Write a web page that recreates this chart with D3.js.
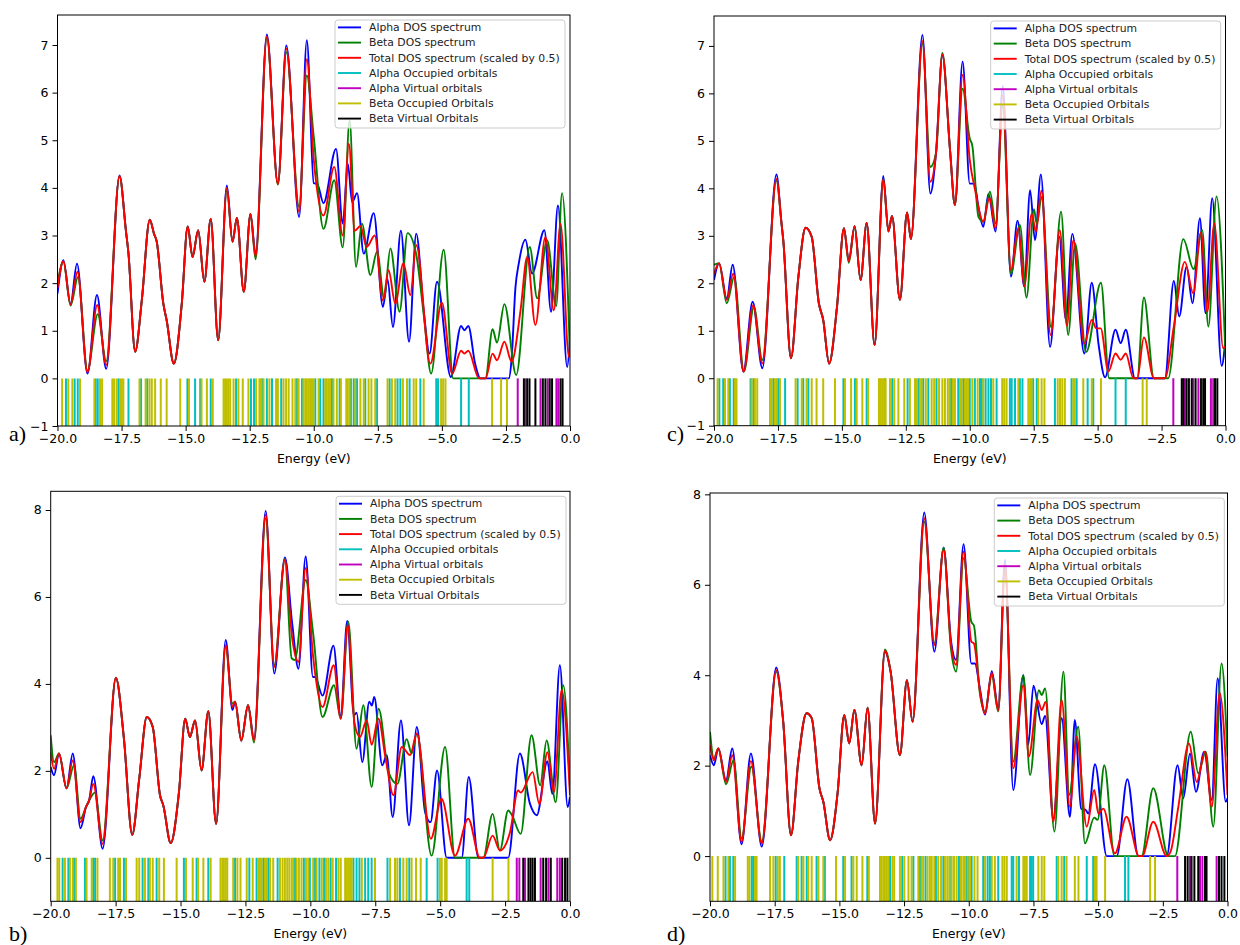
<!DOCTYPE html>
<html>
<head>
<meta charset="utf-8">
<script src="https://cdn.jsdelivr.net/npm/d3@7"></script>
<style>
  body { margin: 0; background: #fff; }
  svg { display: block; font-family: "DejaVu Sans", sans-serif; }
</style>
</head>
<body>
<svg id="fig" width="1240" height="945"></svg>
<script>
// ---- values: [energy (eV), DOS] ----
const aAlpha = [[-20,1.78],[-19.77,2.48],[-19.49,1.56],[-19.24,2.41],[-18.83,0.1],[-18.46,1.75],[-18.1,0.2],[-17.58,4.26],[-17.33,3.1],[-17.23,2.62],[-16.97,0.56],[-16.71,1.64],[-16.4,3.33],[-16.23,3.03],[-16.13,2.88],[-15.87,1.57],[-15.74,1.22],[-15.46,0.31],[-15.15,1.57],[-14.92,3.19],[-14.73,2.55],[-14.51,3.11],[-14.27,2.03],[-14.02,3.35],[-13.73,0.8],[-13.39,4.05],[-13.17,2.87],[-13.0,3.37],[-12.73,1.82],[-12.47,3.45],[-12.27,2.62],[-11.83,7.22],[-11.4,4.09],[-11.07,6.99],[-10.57,3.39],[-10.27,7.1],[-10.0,4.1],[-9.86,4.08],[-9.62,3.68],[-9.13,4.82],[-8.87,3.25],[-8.67,4.5],[-8.5,3.7],[-8.31,3.89],[-8.05,2.62],[-7.66,3.47],[-7.3,1.5],[-7.12,2.08],[-6.91,1.08],[-6.6,3.1],[-6.28,0.77],[-6.0,3.04],[-5.71,1.43],[-5.48,0.52],[-5.19,2.03],[-4.65,0.03],[-4.25,1.1],[-4.12,1.01],[-3.97,1.1],[-3.7,0.3],[-3.5,0],[-2.39,0],[-2.28,0.4],[-2.13,1.9],[-2.0,2.41],[-1.74,2.91],[-1.48,2.2],[-1.0,3.11],[-0.74,1.4],[-0.47,3.63],[-0.11,0.24],[0,0.84]];
const aBeta = [[-20,2.0],[-19.77,2.45],[-19.49,1.53],[-19.2,2.13],[-18.83,0.16],[-18.43,1.35],[-18.1,0.36],[-17.58,4.24],[-17.33,3.1],[-17.23,2.62],[-16.97,0.56],[-16.71,1.64],[-16.4,3.33],[-16.23,3.03],[-16.13,2.88],[-15.87,1.57],[-15.74,1.22],[-15.46,0.31],[-15.15,1.57],[-14.92,3.19],[-14.73,2.55],[-14.51,3.11],[-14.27,2.03],[-14.02,3.35],[-13.73,0.8],[-13.39,3.95],[-13.17,2.87],[-13.0,3.37],[-12.73,1.82],[-12.47,3.45],[-12.27,2.5],[-11.83,7.15],[-11.4,4.07],[-11.07,6.85],[-10.57,3.6],[-10.27,6.36],[-10.0,5.07],[-9.62,3.14],[-9.2,4.16],[-8.87,2.75],[-8.6,5.42],[-8.35,2.34],[-8.12,3.25],[-7.79,2.17],[-7.53,2.66],[-7.25,1.68],[-7.01,2.73],[-6.65,1.4],[-6.34,3.05],[-6.0,2.6],[-5.7,1.3],[-5.42,0.1],[-4.93,2.7],[-4.56,0],[-3.3,0],[-3.02,1.03],[-2.85,0.75],[-2.56,1.56],[-2.1,0.07],[-1.57,2.76],[-1.28,1.68],[-0.89,2.9],[-0.54,1.52],[-0.31,3.89],[0,0.45]];
const aTotal = [[-20,1.9],[-19.77,2.46],[-19.49,1.55],[-19.22,2.24],[-18.83,0.13],[-18.45,1.54],[-18.1,0.28],[-17.58,4.25],[-17.33,3.1],[-17.23,2.62],[-16.97,0.56],[-16.71,1.64],[-16.4,3.33],[-16.23,3.03],[-16.13,2.88],[-15.87,1.57],[-15.74,1.22],[-15.46,0.31],[-15.15,1.57],[-14.92,3.19],[-14.73,2.55],[-14.51,3.11],[-14.27,2.03],[-14.02,3.35],[-13.73,0.8],[-13.39,4.0],[-13.17,2.87],[-13.0,3.37],[-12.73,1.82],[-12.47,3.45],[-12.27,2.56],[-11.83,7.18],[-11.4,4.08],[-11.07,6.92],[-10.57,3.5],[-10.27,6.7],[-10.0,4.6],[-9.62,3.42],[-9.2,4.44],[-8.87,3.0],[-8.63,4.93],[-8.4,3.1],[-8.18,3.2],[-7.93,2.76],[-7.62,3.0],[-7.3,1.64],[-7.08,2.27],[-6.82,1.57],[-6.5,2.42],[-6.23,1.75],[-6.0,2.8],[-5.45,0.31],[-5.0,1.59],[-4.6,0.1],[-4.25,0.58],[-4.12,0.52],[-3.97,0.58],[-3.55,0],[-3.3,0],[-3.02,0.52],[-2.85,0.38],[-2.56,0.77],[-2.28,0.35],[-1.93,1.43],[-1.67,2.55],[-1.35,1.12],[-0.96,2.97],[-0.63,1.43],[-0.37,3.25],[-0.04,0.45],[0,0.66]];

const bAlpha = [[-20,2.09],[-19.87,1.9],[-19.68,2.4],[-19.39,1.6],[-19.15,2.4],[-18.85,0.68],[-18.64,1.17],[-18.52,1.32],[-18.36,1.88],[-18.0,0.21],[-17.49,4.14],[-17.18,2.74],[-16.86,0.53],[-16.59,1.82],[-16.3,3.24],[-16.07,3.01],[-15.79,1.44],[-15.66,1.2],[-15.38,0.34],[-15.06,1.51],[-14.82,3.2],[-14.64,2.78],[-14.44,3.16],[-14.19,2.01],[-13.93,3.37],[-13.63,0.78],[-13.26,5.01],[-13.0,3.4],[-12.9,3.59],[-12.66,2.7],[-12.4,3.51],[-12.17,2.74],[-11.72,7.98],[-11.39,4.24],[-10.98,6.91],[-10.7,5.39],[-10.46,4.35],[-10.18,6.93],[-9.9,4.16],[-9.82,4.16],[-9.53,3.73],[-9.11,4.88],[-8.83,3.26],[-8.58,5.45],[-8.32,3.28],[-8.22,3.34],[-8.0,2.2],[-7.73,3.59],[-7.63,3.5],[-7.54,3.7],[-7.23,2.13],[-7.06,2.36],[-6.83,0.94],[-6.51,3.16],[-6.2,0.75],[-5.9,3.01],[-5.58,1.05],[-5.37,0.82],[-5.12,2.01],[-4.75,0],[-4.17,0],[-3.9,1.86],[-3.53,0],[-2.38,0],[-1.93,2.4],[-1.54,1.24],[-1.28,0.98],[-0.87,2.22],[-0.68,1.47],[-0.39,4.43],[-0.09,1.17],[0,1.4]];
const bBeta = [[-20,2.82],[-19.87,2.2],[-19.68,2.4],[-19.39,1.6],[-19.1,2.13],[-18.85,0.9],[-18.64,1.17],[-18.52,1.32],[-18.3,1.5],[-18.0,0.4],[-17.49,4.14],[-17.18,2.74],[-16.86,0.53],[-16.59,1.82],[-16.3,3.24],[-16.07,3.01],[-15.79,1.44],[-15.66,1.2],[-15.38,0.34],[-15.06,1.51],[-14.82,3.2],[-14.64,2.78],[-14.44,3.16],[-14.19,2.01],[-13.93,3.37],[-13.63,0.78],[-13.26,4.85],[-13.0,3.55],[-12.9,3.59],[-12.66,2.7],[-12.4,3.51],[-12.17,2.65],[-11.72,7.81],[-11.39,4.43],[-10.98,6.87],[-10.72,4.59],[-10.6,4.55],[-10.18,6.39],[-9.9,5.2],[-9.53,3.24],[-9.09,3.97],[-8.83,3.2],[-8.54,5.43],[-8.22,2.51],[-7.96,3.51],[-7.64,1.63],[-7.37,3.43],[-6.99,1.97],[-6.65,1.7],[-6.29,2.73],[-6.1,2.4],[-5.9,2.85],[-5.33,0.05],[-4.81,2.55],[-4.43,0],[-3.34,0],[-2.98,1.01],[-2.7,0.17],[-2.38,1.09],[-2.25,1.0],[-1.9,0.55],[-1.48,2.82],[-1.15,1.67],[-0.9,2.7],[-0.55,1.28],[-0.26,3.97],[0,1.59]];
const bTotal = [[-20,2.43],[-19.87,2.05],[-19.68,2.4],[-19.39,1.6],[-19.15,2.24],[-18.85,0.82],[-18.64,1.17],[-18.52,1.32],[-18.36,1.7],[-18.0,0.32],[-17.49,4.14],[-17.18,2.74],[-16.86,0.53],[-16.59,1.82],[-16.3,3.24],[-16.07,3.01],[-15.79,1.44],[-15.66,1.2],[-15.38,0.34],[-15.06,1.51],[-14.82,3.2],[-14.64,2.78],[-14.44,3.16],[-14.19,2.01],[-13.93,3.37],[-13.63,0.78],[-13.26,4.89],[-13.0,3.47],[-12.9,3.59],[-12.66,2.7],[-12.4,3.51],[-12.17,2.7],[-11.72,7.89],[-11.39,4.39],[-10.98,6.85],[-10.7,5.05],[-10.46,4.51],[-10.18,6.66],[-9.9,4.66],[-9.53,3.47],[-9.1,4.43],[-8.83,3.2],[-8.56,5.35],[-8.3,3.1],[-8.09,2.78],[-7.83,3.16],[-7.64,2.6],[-7.38,3.2],[-7.1,2.28],[-6.8,1.44],[-6.48,2.55],[-6.16,2.36],[-5.9,2.86],[-5.36,0.44],[-4.95,1.36],[-4.43,0.05],[-3.92,0.9],[-3.47,0],[-3.34,0],[-2.98,0.51],[-2.7,0.17],[-2.31,0.59],[-2.0,1.55],[-1.9,1.5],[-1.44,1.97],[-1.18,1.24],[-0.87,2.43],[-0.62,1.51],[-0.32,3.86],[0,1.44]];

const cAlpha = [[-20,2.07],[-19.8,2.42],[-19.5,1.68],[-19.27,2.39],[-18.85,0.14],[-18.49,1.61],[-18.11,0.21],[-17.56,4.29],[-17.36,3.26],[-17.29,2.9],[-16.99,0.42],[-16.7,2.14],[-16.42,3.17],[-16.18,2.98],[-15.9,1.58],[-15.73,1.23],[-15.5,0.31],[-15.19,1.51],[-14.92,3.16],[-14.73,2.49],[-14.5,3.2],[-14.27,2.07],[-14.03,3.27],[-13.72,0.7],[-13.38,4.26],[-13.18,3.09],[-13.04,3.42],[-12.73,1.65],[-12.45,3.49],[-12.3,2.93],[-11.85,7.23],[-11.54,3.89],[-11.32,4.74],[-11.07,6.8],[-10.77,4.8],[-10.58,3.65],[-10.28,6.67],[-10.0,4.1],[-9.82,4.1],[-9.66,3.61],[-9.47,3.19],[-9.27,3.88],[-8.99,3.09],[-8.71,6.15],[-8.39,2.14],[-8.13,3.32],[-7.87,1.93],[-7.64,3.96],[-7.45,2.91],[-7.22,4.29],[-6.86,0.66],[-6.5,2.98],[-6.24,1.23],[-5.99,3.04],[-5.52,0.52],[-5.23,2.01],[-4.96,0.7],[-4.71,0.02],[-4.3,1.02],[-4.1,0.74],[-3.9,1.02],[-3.54,0],[-2.37,0],[-2.02,2.05],[-1.81,1.3],[-1.52,2.35],[-1.29,1.58],[-1.0,3.37],[-0.78,1.37],[-0.52,3.79],[-0.15,0.26],[0,0.84]];
const cBeta = [[-20,2.39],[-19.8,2.42],[-19.5,1.58],[-19.21,2.13],[-18.83,0.14],[-18.44,1.5],[-18.11,0.38],[-17.56,4.17],[-17.36,3.26],[-17.29,2.9],[-16.99,0.42],[-16.7,2.14],[-16.42,3.17],[-16.18,2.98],[-15.9,1.58],[-15.73,1.23],[-15.5,0.31],[-15.19,1.51],[-14.92,3.16],[-14.73,2.43],[-14.5,3.2],[-14.27,2.07],[-14.03,3.27],[-13.72,0.7],[-13.38,4.2],[-13.18,3.09],[-13.04,3.42],[-12.73,1.65],[-12.45,3.49],[-12.3,2.93],[-11.85,7.05],[-11.54,4.45],[-11.32,4.74],[-11.07,6.85],[-10.77,4.8],[-10.58,3.65],[-10.28,6.1],[-10.0,5.05],[-9.9,4.9],[-9.66,3.4],[-9.47,3.3],[-9.21,3.93],[-8.99,3.26],[-8.71,5.75],[-8.39,2.2],[-8.04,3.23],[-7.78,1.7],[-7.49,3.56],[-7.38,3.25],[-7.19,3.82],[-6.82,1.08],[-6.43,3.51],[-6.15,0.91],[-5.88,2.84],[-5.45,0.55],[-4.87,2.01],[-4.55,0],[-3.45,0],[-3.19,1.7],[-2.8,0],[-2.24,0],[-1.65,2.93],[-1.25,2.3],[-0.91,3.12],[-0.67,1.09],[-0.35,3.83],[0,0.45]];
const cTotal = [[-20,2.2],[-19.8,2.42],[-19.5,1.65],[-19.25,2.2],[-18.84,0.14],[-18.47,1.54],[-18.11,0.31],[-17.56,4.2],[-17.36,3.26],[-17.29,2.9],[-16.99,0.42],[-16.7,2.14],[-16.42,3.17],[-16.18,2.98],[-15.9,1.58],[-15.73,1.23],[-15.5,0.31],[-15.19,1.51],[-14.92,3.16],[-14.73,2.46],[-14.5,3.2],[-14.27,2.07],[-14.03,3.27],[-13.72,0.7],[-13.38,4.2],[-13.18,3.09],[-13.04,3.42],[-12.73,1.65],[-12.45,3.49],[-12.3,2.93],[-11.85,7.1],[-11.54,4.14],[-11.32,4.74],[-11.07,6.82],[-10.77,4.8],[-10.58,3.65],[-10.28,6.39],[-10.0,4.6],[-9.79,3.96],[-9.47,3.3],[-9.23,3.8],[-8.99,3.16],[-8.71,5.95],[-8.39,2.28],[-8.1,3.16],[-7.87,1.93],[-7.58,3.46],[-7.41,3.09],[-7.2,3.95],[-6.84,0.91],[-6.48,3.12],[-6.2,1.1],[-5.95,2.91],[-5.52,0.73],[-5.23,1.23],[-5.05,1.05],[-4.88,1.05],[-4.58,0.14],[-4.3,0.52],[-4.1,0.39],[-3.9,0.52],[-3.6,0],[-3.45,0],[-3.19,0.86],[-2.8,0],[-2.37,0],[-2.02,1.09],[-1.59,2.45],[-1.26,1.79],[-0.96,3.07],[-0.71,1.4],[-0.44,3.26],[-0.09,0.63],[0,0.67]];

const dAlpha = [[-20,2.23],[-19.85,2.01],[-19.68,2.38],[-19.38,1.68],[-19.14,2.38],[-18.78,0.26],[-18.42,2.27],[-18.0,0.21],[-17.44,4.17],[-17.17,2.97],[-16.87,0.46],[-16.59,2.09],[-16.27,3.16],[-16.07,3.05],[-15.77,1.5],[-15.62,1.2],[-15.36,0.35],[-15.07,1.39],[-14.81,3.12],[-14.62,2.49],[-14.42,3.23],[-14.14,2.01],[-13.91,3.28],[-13.62,0.72],[-13.24,4.52],[-13.02,4.08],[-12.66,2.23],[-12.39,3.89],[-12.17,2.97],[-11.72,7.6],[-11.33,4.52],[-10.97,6.82],[-10.69,4.78],[-10.49,4.34],[-10.2,6.9],[-9.9,4.26],[-9.76,4.26],[-9.57,3.71],[-9.37,3.13],[-9.11,4.09],[-8.86,3.27],[-8.6,6.55],[-8.28,1.46],[-7.89,4.0],[-7.7,2.46],[-7.5,3.77],[-7.18,2.92],[-7.05,3.1],[-6.73,0.83],[-6.41,3.05],[-6.09,0.87],[-5.9,3.01],[-5.66,1.05],[-5.48,1.02],[-5.38,0.94],[-5.12,2.03],[-4.67,0],[-4.28,0],[-3.87,1.7],[-3.45,0],[-2.35,0],[-1.93,2.01],[-1.71,1.28],[-1.45,2.27],[-1.22,1.42],[-0.9,2.31],[-0.61,1.24],[-0.38,3.93],[-0.07,1.2],[0,1.28]];
const dBeta = [[-20,2.75],[-19.85,2.16],[-19.68,2.38],[-19.38,1.59],[-19.09,2.12],[-18.78,0.39],[-18.4,1.98],[-18.0,0.32],[-17.44,4.08],[-17.17,2.97],[-16.87,0.46],[-16.59,2.09],[-16.27,3.16],[-16.07,3.05],[-15.77,1.5],[-15.62,1.2],[-15.36,0.35],[-15.07,1.39],[-14.81,3.12],[-14.62,2.49],[-14.42,3.23],[-14.14,2.01],[-13.91,3.28],[-13.62,0.72],[-13.24,4.57],[-13.02,4.08],[-12.66,2.23],[-12.39,3.89],[-12.17,2.97],[-11.72,7.4],[-11.33,4.7],[-10.97,6.82],[-10.69,4.6],[-10.49,4.08],[-10.2,6.59],[-9.9,5.18],[-9.8,5.1],[-9.57,3.6],[-9.37,3.2],[-9.11,4.0],[-8.86,3.2],[-8.6,6.35],[-8.28,2.09],[-7.89,4.0],[-7.63,1.79],[-7.29,3.67],[-7.18,3.56],[-7.05,3.71],[-6.69,0.54],[-6.34,4.08],[-6.12,1.35],[-5.77,2.86],[-5.51,0.28],[-5.15,0.85],[-5.02,0.8],[-4.76,2.01],[-4.37,0],[-3.32,0],[-2.87,1.5],[-2.29,0],[-2.03,0],[-1.42,2.75],[-1.13,1.83],[-0.84,2.31],[-0.55,0.65],[-0.23,4.26],[0,2.2]];
const dTotal = [[-20,2.46],[-19.85,2.12],[-19.68,2.38],[-19.38,1.64],[-19.14,2.23],[-18.78,0.32],[-18.42,2.1],[-18.0,0.28],[-17.44,4.11],[-17.17,2.97],[-16.87,0.46],[-16.59,2.09],[-16.27,3.16],[-16.07,3.05],[-15.77,1.5],[-15.62,1.2],[-15.36,0.35],[-15.07,1.39],[-14.81,3.12],[-14.62,2.49],[-14.42,3.23],[-14.14,2.01],[-13.91,3.28],[-13.62,0.72],[-13.24,4.54],[-13.02,4.08],[-12.66,2.23],[-12.39,3.89],[-12.17,2.97],[-11.72,7.47],[-11.33,4.67],[-10.97,6.77],[-10.69,4.7],[-10.49,4.23],[-10.2,6.73],[-9.9,4.74],[-9.8,4.7],[-9.57,3.65],[-9.37,3.15],[-9.11,4.05],[-8.86,3.22],[-8.6,6.45],[-8.28,1.94],[-7.89,3.78],[-7.68,2.2],[-7.34,3.45],[-7.18,3.23],[-7.03,3.41],[-6.73,0.76],[-6.41,3.45],[-6.09,1.09],[-5.83,2.64],[-5.44,0.65],[-5.15,1.46],[-4.99,0.94],[-4.8,1.05],[-4.35,0.06],[-3.9,0.87],[-3.42,0],[-3.3,0],[-2.87,0.76],[-2.35,0],[-2.2,0.1],[-1.9,1.09],[-1.49,2.49],[-1.19,1.64],[-0.87,2.31],[-0.61,1.09],[-0.3,3.6],[0,1.35]];

// ---- orbital energies (eV) for the stick spectra ----
const aAlphaOcc = [-19.67,-19.33,-19.21,-18.51,-18.43,-17.62,-17.23,-16.74,-16.5,-14.93,-14.63,-14.43,-14.02,-13.03,-12.45,-12.33,-12.01,-11.83,-11.63,-11.27,-10.66,-10.46,-9.94,-9.75,-9.62,-9.29,-8.99,-8.55,-8.44,-8.31,-7.99,-7.53,-7.04,-6.73,-6.62,-6.26,-5.84,-5.22,-5.15,-4.25,-3.95];
const aAlphaVirt = [-2.04,-1.74,-1.15,-0.87,-0.53,-0.46];
const aBetaOcc = [-19.82,-19.58,-19.42,-19.12,-18.56,-18.34,-18.26,-17.86,-17.79,-17.69,-17.56,-17.49,-17.43,-16.8,-16.56,-16.41,-16.32,-16.19,-15.97,-15.74,-15.21,-14.87,-14.38,-14.17,-13.94,-13.52,-13.46,-13.39,-13.33,-13.26,-13.13,-12.94,-12.77,-12.55,-12.25,-12.12,-12.07,-11.96,-11.73,-11.47,-11.4,-11.18,-11.08,-10.98,-10.83,-10.72,-10.59,-10.4,-10.33,-10.27,-10.2,-10.14,-10.07,-10.01,-9.81,-9.55,-9.49,-9.42,-9.36,-9.23,-9.1,-8.94,-8.73,-8.67,-8.6,-8.38,-8.18,-8.05,-7.86,-7.75,-7.6,-7.12,-6.95,-6.82,-6.52,-6.36,-6.1,-6.0,-5.71,-5.03,-4.95,-4.86,-3.04,-2.69,-2.46];
const aBetaVirt = [-1.8,-1.67,-1.58,-1.35,-1.06,-0.96,-0.79,-0.7,-0.37,-0.29];

const bAlphaOcc = [-19.54,-19.32,-19.1,-18.68,-18.36,-18.29,-17.52,-17.18,-16.46,-16.24,-15.92,-14.87,-14.38,-13.93,-12.9,-12.35,-12.07,-11.81,-11.62,-11.26,-10.59,-10.25,-10.02,-9.82,-9.65,-9.47,-9.22,-9.01,-8.34,-8.22,-8.11,-7.89,-7.77,-7.64,-7.03,-6.55,-6.19,-5.52,-5.1,-3.98,-3.88];
const bAlphaVirt = [-2.05,-1.95,-1.73,-1.13,-0.83,-0.49,-0.39];
const bBetaOcc = [-19.74,-19.67,-19.45,-19.26,-19.15,-19.03,-18.62,-18.42,-18.2,-17.72,-17.59,-17.4,-17.33,-17.1,-16.69,-16.59,-16.37,-16.18,-16.07,-15.82,-15.64,-15.15,-14.79,-14.53,-14.32,-14.12,-13.84,-13.46,-13.39,-13.33,-13.26,-13.2,-12.97,-12.81,-12.69,-12.45,-12.22,-12.0,-11.94,-11.88,-11.75,-11.68,-11.55,-11.43,-11.17,-11.07,-10.98,-10.89,-10.81,-10.72,-10.66,-10.53,-10.44,-10.34,-10.17,-10.08,-9.89,-9.76,-9.56,-9.4,-9.31,-9.14,-8.92,-8.83,-8.66,-8.6,-8.54,-8.47,-8.41,-8.02,-7.51,-6.93,-6.74,-6.65,-6.42,-6.29,-6.1,-5.93,-5.75,-5.01,-4.94,-4.81,-4.75,-2.98,-2.37];
const bBetaVirt = [-1.8,-1.6,-1.52,-1.44,-1.35,-1.03,-0.92,-0.74,-0.3,-0.19,-0.1];

const cAlphaOcc = [-19.79,-19.64,-19.38,-19.23,-18.57,-18.46,-17.68,-17.49,-17.22,-16.73,-16.51,-16.31,-14.94,-14.49,-14.03,-13.31,-13.03,-12.43,-12.01,-11.82,-11.62,-11.3,-10.73,-10.45,-10.25,-10.0,-9.8,-9.6,-9.53,-9.38,-9.27,-9.17,-8.95,-8.43,-8.36,-8.23,-8.04,-7.94,-7.52,-7.38,-6.67,-6.02,-5.82,-5.39,-5.17,-4.3,-3.9];
const cAlphaVirt = [-2.04,-1.59,-1.26,-1.06,-0.57,-0.48];
const cBetaOcc = [-19.86,-19.57,-19.44,-19.18,-19.12,-18.53,-18.4,-18.31,-17.81,-17.75,-17.62,-17.55,-17.42,-16.81,-16.57,-16.38,-16.18,-15.99,-15.73,-15.27,-14.88,-14.64,-14.42,-14.2,-13.97,-13.55,-13.48,-13.42,-13.35,-13.29,-13.12,-12.95,-12.79,-12.56,-12.34,-12.14,-12.08,-11.95,-11.88,-11.72,-11.49,-11.39,-11.2,-11.07,-10.97,-10.86,-10.79,-10.66,-10.58,-10.38,-10.32,-10.19,-10.12,-10.06,-9.9,-9.69,-9.47,-9.08,-8.73,-8.65,-8.56,-8.1,-7.71,-7.64,-7.58,-7.32,-7.19,-7.08,-6.56,-6.47,-6.38,-6.28,-5.95,-5.89,-5.56,-5.23,-4.87,-3.24,-3.08];
const cBetaVirt = [-1.71,-1.65,-1.52,-1.43,-1.32,-1.17,-0.96,-0.87,-0.8,-0.41,-0.32];

const dAlphaOcc = [-19.4,-19.23,-19.1,-18.39,-18.33,-17.46,-17.13,-16.65,-16.46,-16.26,-15.88,-15.56,-14.85,-14.53,-13.92,-13.04,-12.57,-12.14,-11.88,-11.67,-11.27,-10.98,-10.73,-10.38,-10.08,-10.02,-9.89,-9.44,-9.27,-9.18,-8.86,-8.34,-8.28,-8.06,-7.63,-7.57,-7.51,-6.6,-6.31,-5.44,-5.19,-3.96,-3.83];
const dAlphaVirt = [-1.94,-1.45,-1.06,-0.97,-0.42];
const dBetaOcc = [-19.91,-19.7,-19.48,-19.29,-19.03,-18.54,-18.48,-18.26,-18.2,-17.68,-17.55,-17.38,-17.3,-16.59,-16.39,-16.2,-16.07,-15.81,-15.62,-15.13,-14.78,-14.46,-14.33,-14.11,-13.86,-13.43,-13.37,-13.3,-13.24,-13.17,-13.11,-12.95,-12.88,-12.66,-12.49,-12.33,-12.21,-11.95,-11.82,-11.76,-11.59,-11.5,-11.43,-11.33,-11.18,-11.07,-10.92,-10.83,-10.75,-10.66,-10.57,-10.47,-10.3,-10.21,-10.15,-10.04,-9.95,-9.78,-9.66,-9.37,-9.11,-8.99,-8.7,-8.62,-8.53,-8.15,-7.89,-7.83,-7.76,-7.31,-7.18,-7.08,-6.54,-6.41,-6.22,-5.9,-5.76,-5.12,-5.06,-4.73,-2.99,-2.8];
const dBetaVirt = [-1.64,-1.54,-1.39,-1.28,-1.13,-0.87,-0.81,-0.33,-0.23,-0.12];

const xTicks = [-20, -17.5, -15, -12.5, -10, -7.5, -5, -2.5, 0];
const legendLabels = ['Alpha DOS spectrum', 'Beta DOS spectrum', 'Total DOS spectrum (scaled by 0.5)',
  'Alpha Occupied orbitals', 'Alpha Virtual orbitals', 'Beta Occupied Orbitals', 'Beta Virtual Orbitals'];

// matplotlib single-letter colours
const colors = ['#0000ff', '#008000', '#ff0000', '#00bfbf', '#bf00bf', '#bfbf00', '#000000'];

// panel frames (pixel boxes) and the data they draw
const panels = [
  { label: 'a)', lx: 9, ly: 441, x0: 57.5, x1: 570, y0: 15, y1: 426, yMax: 7.63, yTicks: d3.range(-1, 8),
    lgX: 335, lgY: 20, curves: [aAlpha, aBeta, aTotal], sticks: [aAlphaOcc, aAlphaVirt, aBetaOcc, aBetaVirt] },
  { label: 'b)', lx: 9, ly: 941, x0: 50.7, x1: 570, y0: 491.3, y1: 901.3, yMax: 8.43, yTicks: [0, 2, 4, 6, 8],
    lgX: 336, lgY: 496.3, curves: [bAlpha, bBeta, bTotal], sticks: [bAlphaOcc, bAlphaVirt, bBetaOcc, bBetaVirt] },
  { label: 'c)', lx: 667, ly: 441, x0: 714, x1: 1225.5, y0: 16, y1: 425.7, yMax: 7.63, yTicks: d3.range(-1, 8),
    lgX: 990.7, lgY: 21, curves: [cAlpha, cBeta, cTotal], sticks: [cAlphaOcc, cAlphaVirt, cBetaOcc, cBetaVirt] },
  { label: 'd)', lx: 667, ly: 941, x0: 710, x1: 1227.5, y0: 493, y1: 901.3, yMax: 8.03, yTicks: [0, 2, 4, 6, 8],
    lgX: 994.3, lgY: 498, curves: [dAlpha, dBeta, dTotal], sticks: [dAlphaOcc, dAlphaVirt, dBetaOcc, dBetaVirt] }
];

const svg = d3.select('#fig');

panels.forEach((p, pi) => {
  const x = d3.scaleLinear().domain([-20, 0]).range([p.x0, p.x1]);
  const y = d3.scaleLinear().domain([-1, p.yMax]).range([p.y1, p.y0]);
  const g = svg.append('g');

  g.append('defs').append('clipPath').attr('id', 'clip' + pi)
    .append('rect')
    .attr('x', p.x0).attr('y', p.y0)
    .attr('width', p.x1 - p.x0).attr('height', p.y1 - p.y0);

  const plot = g.append('g').attr('clip-path', `url(#clip${pi})`);

  const line = d3.line()
    .x(d => x(d[0]))
    .y(d => y(d[1]))
    .curve(d3.curveMonotoneX);

  p.curves.forEach((c, i) => {
    plot.append('path')
      .datum(c)
      .attr('d', line)
      .attr('fill', 'none')
      .attr('stroke', colors[i])
      .attr('stroke-width', 1.9)
      .attr('stroke-linejoin', 'round');
  });

  p.sticks.forEach((s, i) => {
    plot.append('g').selectAll('line')
      .data(s)
      .enter().append('line')
        .attr('x1', d => x(d)).attr('x2', d => x(d))
        .attr('y1', y(0)).attr('y2', y(-1))
        .attr('stroke', colors[3 + i])
        .attr('stroke-width', 2);
  });

  // axes
  const xAxis = g.append('g')
    .attr('transform', `translate(0,${p.y1})`)
    .call(d3.axisBottom(x).tickValues(xTicks).tickFormat(d3.format('.1f')).tickSize(5).tickPadding(3));
  const yAxis = g.append('g')
    .attr('transform', `translate(${p.x0},0)`)
    .call(d3.axisLeft(y).tickValues(p.yTicks).tickFormat(d3.format('d')).tickSize(5).tickPadding(4));
  [xAxis, yAxis].forEach(a => {
    a.select('.domain').remove();
    a.attr('font-family', '"DejaVu Sans", sans-serif').attr('font-size', 12.5);
    a.selectAll('.tick line').attr('stroke', '#000').attr('stroke-width', 1);
  });

  g.append('rect')
    .attr('x', p.x0).attr('y', p.y0)
    .attr('width', p.x1 - p.x0).attr('height', p.y1 - p.y0)
    .attr('fill', 'none').attr('stroke', '#000').attr('stroke-width', 1);

  g.append('text')
    .attr('x', (p.x0 + p.x1) / 2).attr('y', p.y1 + 37)
    .attr('text-anchor', 'middle')
    .attr('font-size', 12.5)
    .text('Energy (eV)');

  // legend
  const lg = g.append('g').attr('transform', `translate(${p.lgX},${p.lgY})`);
  lg.append('rect')
    .attr('width', 230).attr('height', 108)
    .attr('rx', 3).attr('ry', 3)
    .attr('fill', '#fff').attr('fill-opacity', 0.8)
    .attr('stroke', '#cccccc').attr('stroke-width', 1);
  legendLabels.forEach((t, i) => {
    const ry = 7.4 + i * 15.2;
    lg.append('line')
      .attr('x1', 3).attr('x2', 26)
      .attr('y1', ry).attr('y2', ry)
      .attr('stroke', colors[i]).attr('stroke-width', 1.9);
    lg.append('text')
      .attr('x', 34).attr('y', ry).attr('dy', '0.35em')
      .attr('font-size', 10.8)
      .attr('fill', '#222')
      .text(t);
  });

  // panel letter
  svg.append('text')
    .attr('x', p.lx).attr('y', p.ly)
    .attr('font-family', '"Liberation Serif", "Times New Roman", serif')
    .attr('font-size', 22)
    .text(p.label);
});
</script>
</body>
</html>
